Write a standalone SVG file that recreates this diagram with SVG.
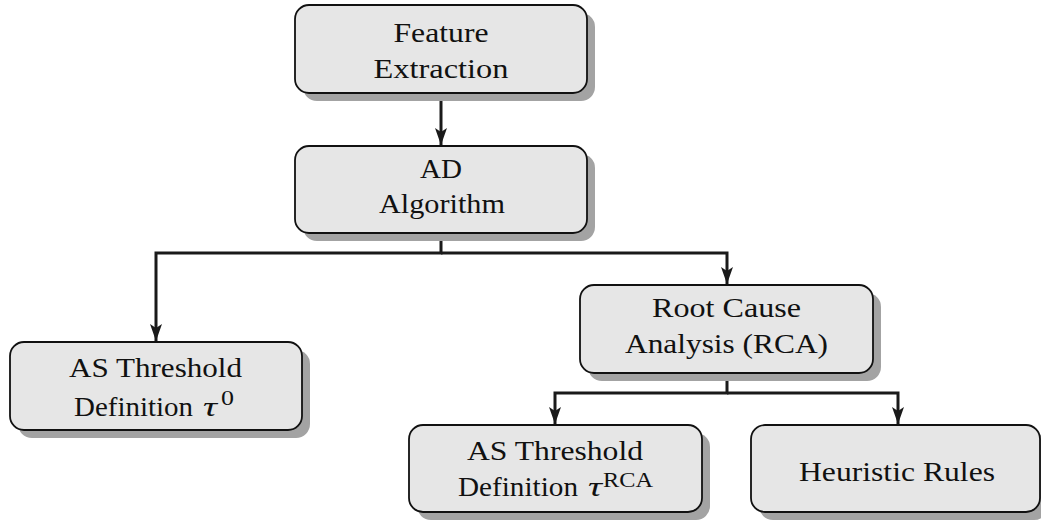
<svg xmlns="http://www.w3.org/2000/svg" width="1041" height="521" viewBox="0 0 1041 521">
<style>
.shadow{fill:#a3a3a3;stroke:none}
.box{fill:#e6e6e6;stroke:#111;stroke-width:1.8}
text{font-family:'Liberation Serif','Times New Roman',serif;font-size:28px;fill:#111}
.t{text-anchor:middle}
.it{font-style:italic}
.sup{font-size:20px}
.c{fill:none;stroke:#1a1a1a;stroke-width:3}
</style>
<defs>
<marker id="arr" markerUnits="userSpaceOnUse" markerWidth="18" markerHeight="14" refX="17" refY="7" orient="auto">
<path d="M0,1 L17,7 L0,13 L4,7 Z" fill="#1a1a1a"/>
</marker>
</defs>
<rect width="1041" height="521" fill="#fff"/>
<g id="connectors">
<path class="c" d="M441,93 V145" marker-end="url(#arr)"/>
<path class="c" d="M441,233 V253 H156 V341" marker-end="url(#arr)"/>
<path class="c" d="M441,253 H727 V284" marker-end="url(#arr)"/>
<path class="c" d="M727,373 V393 H555 V424" marker-end="url(#arr)"/>
<path class="c" d="M727,393 H898 V424" marker-end="url(#arr)"/>
</g>
<g id="n1">
<rect class="shadow" x="303" y="13" width="292" height="88" rx="14"/>
<rect class="box" x="295" y="5" width="292" height="88" rx="14"/>
<text class="t" x="441" y="42" textLength="95" lengthAdjust="spacingAndGlyphs">Feature</text>
<text class="t" x="441" y="78" textLength="135" lengthAdjust="spacingAndGlyphs">Extraction</text>
</g>
<g id="n2">
<rect class="shadow" x="303" y="154" width="292" height="87" rx="14"/>
<rect class="box" x="295" y="146" width="292" height="87" rx="14"/>
<text class="t" x="441" y="178" textLength="42" lengthAdjust="spacingAndGlyphs">AD</text>
<text class="t" x="442" y="213" textLength="126" lengthAdjust="spacingAndGlyphs">Algorithm</text>
</g>
<g id="n3">
<rect class="shadow" x="18" y="350" width="292" height="88" rx="14"/>
<rect class="box" x="10" y="342" width="292" height="88" rx="14"/>
<text class="t" x="155.5" y="377" textLength="173" lengthAdjust="spacingAndGlyphs">AS Threshold</text>
<text x="74" y="416" textLength="119" lengthAdjust="spacingAndGlyphs">Definition</text>
<text class="it" x="203" y="416" textLength="14" lengthAdjust="spacingAndGlyphs">τ</text>
<text class="sup" x="221" y="405" textLength="13" lengthAdjust="spacingAndGlyphs">0</text>
</g>
<g id="n4">
<rect class="shadow" x="588" y="293" width="293" height="88" rx="14"/>
<rect class="box" x="580" y="285" width="293" height="88" rx="14"/>
<text class="t" x="726.5" y="317" textLength="149" lengthAdjust="spacingAndGlyphs">Root Cause</text>
<text class="t" x="726.5" y="353" textLength="203" lengthAdjust="spacingAndGlyphs">Analysis (RCA)</text>
</g>
<g id="n5">
<rect class="shadow" x="417" y="433" width="293" height="87" rx="14"/>
<rect class="box" x="409" y="425" width="293" height="87" rx="14"/>
<text class="t" x="555" y="460" textLength="176" lengthAdjust="spacingAndGlyphs">AS Threshold</text>
<text x="458" y="496" textLength="120" lengthAdjust="spacingAndGlyphs">Definition</text>
<text class="it" x="588" y="496" textLength="14" lengthAdjust="spacingAndGlyphs">τ</text>
<text class="sup" x="603" y="487" textLength="50" lengthAdjust="spacingAndGlyphs">RCA</text>
</g>
<g id="n6">
<rect class="shadow" x="759" y="433" width="289" height="87" rx="14"/>
<rect class="box" x="751" y="425" width="289" height="87" rx="14"/>
<text class="t" x="897" y="481" textLength="196" lengthAdjust="spacingAndGlyphs">Heuristic Rules</text>
</g>
</svg>
